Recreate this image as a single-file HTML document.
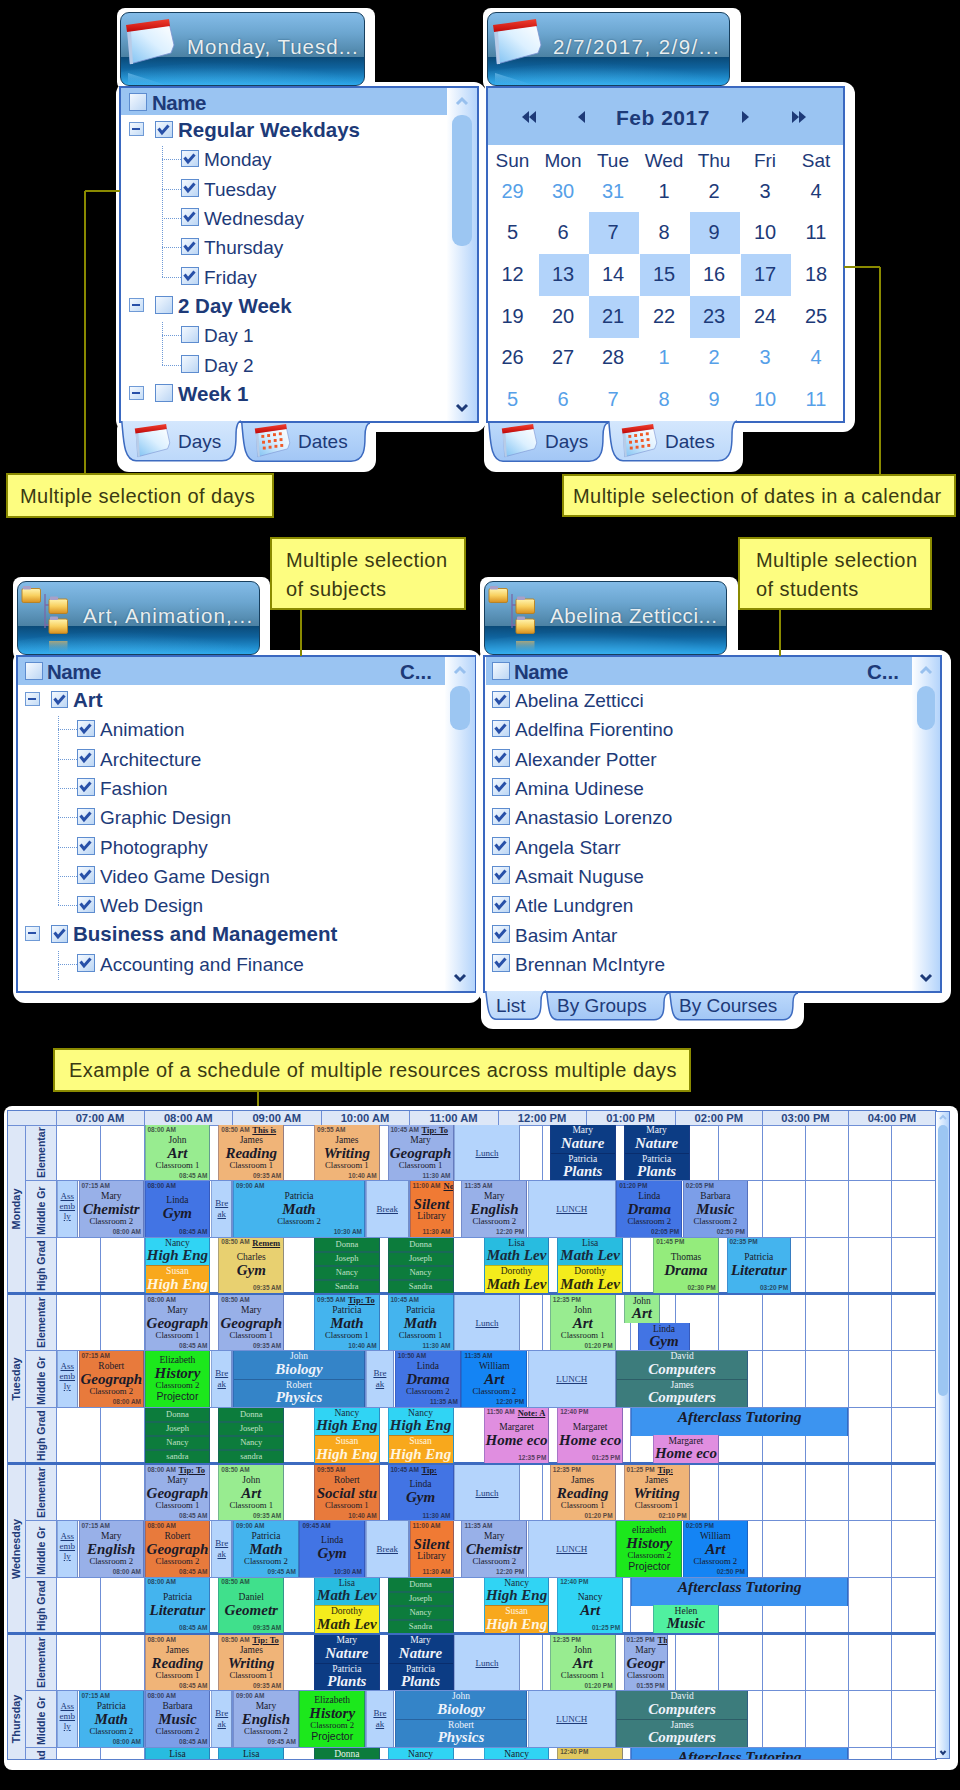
<!DOCTYPE html><html><head><meta charset="utf-8"><style>
*{margin:0;padding:0;box-sizing:border-box}
html,body{width:960px;height:1790px;overflow:hidden;background:#000;font-family:"Liberation Sans", sans-serif}
.a{position:absolute}
.wo{position:absolute;background:#fff}
.hb{position:absolute;border:1.5px solid #173f5e;border-radius:9px;overflow:hidden;
 background:linear-gradient(#84bce8 0%,#6ca6d0 28%,#4c82a4 60.5%,#0a4a78 61%,#0f629c 76%,#2aa6ea 100%)}
.hb .t{position:absolute;color:#e9eef0;font-size:20.5px;letter-spacing:1.1px;white-space:nowrap;text-shadow:0 0 2px #2a5a7a}
.lst{position:absolute;background:#fff;border:2px solid #3a68c0}
.colh{position:absolute;background:#9ac4f2;color:#1d3a78;font-weight:bold;font-size:19px}
.sb{position:absolute;background:linear-gradient(90deg,#fdfeff,#b4d4fb)}
.th{position:absolute;background:#9cc6f2;border-radius:9px}
.row{position:absolute;white-space:nowrap;color:#1d3a78;font-size:19px}
.rowb{position:absolute;white-space:nowrap;color:#1d3a78;font-size:20.5px;font-weight:bold}
.cb{position:absolute;width:17.5px;height:17.5px;border:1.5px solid #5d8ccf;background:linear-gradient(135deg,#f4f9ff,#bcd6f4)}
.mb{position:absolute;width:15px;height:14.5px;border:1.5px solid #6f9ad6;background:linear-gradient(135deg,#f4f9ff,#c4dcf6)}
.mb:after{content:"";position:absolute;left:2px;top:5px;width:8px;height:2px;background:#2850a8}
.dv{position:absolute;border-left:1px dotted #6f9ad6;width:0}
.dh{position:absolute;border-top:1px dotted #6f9ad6;height:0}
.tab{position:absolute;background:linear-gradient(#c0dafa,#a8cbf6);border:1.5px solid #3d6bc0;border-top:none;border-radius:0 0 14px 14px;color:#1d3a78;font-size:19px;white-space:nowrap}
.co{position:absolute;background:#fdfd80;border:2px solid #8a8a00;color:#3a3a12;font-size:20px;white-space:nowrap;letter-spacing:0.45px}
.ln{position:absolute;background:#8a8a00}

.sg{position:absolute;background:#dde7f7}
.hl{position:absolute;color:#2a4680;font-weight:bold;font-size:11.2px;text-align:center;white-space:nowrap}
.vl{position:absolute;width:1px;background:#6f8fd6}
.hz{position:absolute;height:1px;background:#6f8fd6}
.ev{position:absolute;overflow:hidden;font-family:"Liberation Serif", serif;color:#1a1a2a;border-right:1px solid rgba(40,60,140,.45);border-left:1px solid rgba(40,60,140,.3)}
.ev .tm{position:absolute;left:2px;top:0.5px;font-family:"Liberation Sans", sans-serif;font-size:6.5px;line-height:7.5px;font-weight:bold;white-space:nowrap;opacity:.7}
.ev .te{position:absolute;right:2px;bottom:1px;font-family:"Liberation Sans", sans-serif;font-size:6.5px;line-height:7.5px;font-weight:bold;white-space:nowrap;opacity:.7}
.ev .nt{position:absolute;top:0px;font-size:8.5px;font-weight:bold;text-decoration:underline;white-space:nowrap}
.ev .c{position:absolute;left:0;right:0;text-align:center;white-space:nowrap}
.ev .nm{font-size:9.5px;line-height:11px}
.ev .ti{font-size:15px;line-height:17px;font-weight:bold;font-style:italic}
.ev .rm{font-size:8.7px;line-height:10px}
.ev .lk{font-size:9px;line-height:11px;text-decoration:underline;color:#1d3a78}
.ev .pj{font-family:"Liberation Sans", sans-serif;font-size:10.5px;line-height:12px}
.rot{position:absolute;transform-origin:0 0;transform:rotate(-90deg);white-space:nowrap;color:#1d3a78;text-align:center}
</style></head><body><div class="wo" style="left:117px;top:8px;width:258px;height:82px;border-radius:8px"></div>
<div class="wo" style="left:116px;top:82px;width:370px;height:350px;border-radius:12px"></div>
<div class="wo" style="left:117px;top:418px;width:259px;height:54px;border-radius:12px"></div>
<div class="hb" style="left:120px;top:12px;width:245px;height:74px">
<div class="a" style="left:-40px;top:48.8px;width:318.5px;height:60px;border-radius:50%;background:radial-gradient(ellipse at 40% 70%,rgba(90,200,250,.55),rgba(60,170,240,0) 70%)"></div>
<div class="t" style="left:66px;top:22.0px;letter-spacing:1.0px">Monday, Tuesd...</div>
<svg class="a" style="left:4px;top:6px" width="52" height="48" viewBox="0 0 52 48">
<defs><linearGradient id="cga" x1="0" y1="1" x2="1" y2="0"><stop offset="0" stop-color="#7cc0f2"/><stop offset="0.55" stop-color="#dcf0ff"/><stop offset="1" stop-color="#ffffff"/></linearGradient>
<linearGradient id="rga" x1="0" y1="0" x2="0" y2="1"><stop offset="0" stop-color="#f04030"/><stop offset="1" stop-color="#c00808"/></linearGradient></defs>
<polygon points="3,12 44,6 45,8 49,26 46,34 5,45" fill="url(#cga)" stroke="#7890d0" stroke-width="0.8"/>
<polygon points="2,12 6,12 8,45 5,45" fill="#b8cce8"/>
<polygon points="1,6 44,0 45,7 2,13" fill="url(#rga)"/>

</svg>
<svg class="a" style="left:5px;top:54px" width="50" height="20"><defs><linearGradient id="rfa" x1="0" y1="0" x2="0" y2="1"><stop offset="0" stop-color="#8cd0f8" stop-opacity="0.55"/><stop offset="1" stop-color="#60b8f0" stop-opacity="0.1"/></linearGradient></defs><polygon points="2,6 40,18 2,18" fill="url(#rfa)"/></svg>
</div>
<div class="lst" style="left:119px;top:86px;width:360px;height:337px"></div>
<div class="colh" style="left:121px;top:88px;width:326px;height:27px"></div>
<div class="cb" style="left:129px;top:93px"></div>
<div class="rowb" style="left:152px;top:90.5px;font-size:20.5px;letter-spacing:-0.5px">Name</div>
<div class="sb" style="left:447px;top:88px;width:30px;height:333px"></div>
<div class="th" style="left:452px;top:115px;width:20px;height:131px"></div>
<svg class="a" style="left:455.0px;top:96px" width="14" height="10"><path d="M2 8 L7 3 L12 8" stroke="#98c0ee" stroke-width="3" fill="none"/></svg>
<svg class="a" style="left:455.0px;top:403px" width="14" height="10"><path d="M2 2 L7 7 L12 2" stroke="#1d3a78" stroke-width="3" fill="none"/></svg>
<div class="mb" style="left:128.5px;top:121.5px"></div>
<div class="cb" style="left:155px;top:120.5px"><svg class="a" style="left:1px;top:1px" width="13" height="13" viewBox="0 0 13 13"><path d="M1.5 5.5 L5 10 L11.5 2.5" stroke="#2850a8" stroke-width="3" fill="none"/></svg></div>
<div class="rowb" style="left:178px;top:117.5px">Regular Weekdays</div>
<div class="dh" style="left:162px;top:159.3px;width:19px"></div>
<div class="cb" style="left:181px;top:149.82999999999998px"><svg class="a" style="left:1px;top:1px" width="13" height="13" viewBox="0 0 13 13"><path d="M1.5 5.5 L5 10 L11.5 2.5" stroke="#2850a8" stroke-width="3" fill="none"/></svg></div>
<div class="row" style="left:204px;top:149.3px">Monday</div>
<div class="dh" style="left:162px;top:188.7px;width:19px"></div>
<div class="cb" style="left:181px;top:179.16px"><svg class="a" style="left:1px;top:1px" width="13" height="13" viewBox="0 0 13 13"><path d="M1.5 5.5 L5 10 L11.5 2.5" stroke="#2850a8" stroke-width="3" fill="none"/></svg></div>
<div class="row" style="left:204px;top:178.7px">Tuesday</div>
<div class="dh" style="left:162px;top:218.0px;width:19px"></div>
<div class="cb" style="left:181px;top:208.49px"><svg class="a" style="left:1px;top:1px" width="13" height="13" viewBox="0 0 13 13"><path d="M1.5 5.5 L5 10 L11.5 2.5" stroke="#2850a8" stroke-width="3" fill="none"/></svg></div>
<div class="row" style="left:204px;top:208.0px">Wednesday</div>
<div class="dh" style="left:162px;top:247.3px;width:19px"></div>
<div class="cb" style="left:181px;top:237.82px"><svg class="a" style="left:1px;top:1px" width="13" height="13" viewBox="0 0 13 13"><path d="M1.5 5.5 L5 10 L11.5 2.5" stroke="#2850a8" stroke-width="3" fill="none"/></svg></div>
<div class="row" style="left:204px;top:237.3px">Thursday</div>
<div class="dh" style="left:162px;top:276.6px;width:19px"></div>
<div class="cb" style="left:181px;top:267.15px"><svg class="a" style="left:1px;top:1px" width="13" height="13" viewBox="0 0 13 13"><path d="M1.5 5.5 L5 10 L11.5 2.5" stroke="#2850a8" stroke-width="3" fill="none"/></svg></div>
<div class="row" style="left:204px;top:266.6px">Friday</div>
<div class="mb" style="left:128.5px;top:297.5px"></div>
<div class="cb" style="left:155px;top:296.48px"></div>
<div class="rowb" style="left:178px;top:293.5px">2 Day Week</div>
<div class="dh" style="left:162px;top:335.3px;width:19px"></div>
<div class="cb" style="left:181px;top:325.81px"></div>
<div class="row" style="left:204px;top:325.3px">Day 1</div>
<div class="dh" style="left:162px;top:364.6px;width:19px"></div>
<div class="cb" style="left:181px;top:355.14px"></div>
<div class="row" style="left:204px;top:354.6px">Day 2</div>
<div class="mb" style="left:128.5px;top:385.5px"></div>
<div class="cb" style="left:155px;top:384.46999999999997px"></div>
<div class="rowb" style="left:178px;top:381.5px">Week 1</div>
<div class="dv" style="left:162px;top:146px;height:130.6px"></div>
<div class="dv" style="left:162px;top:322.0px;height:42.7px"></div>
<svg class="a" style="left:121px;top:421px;overflow:visible" width="120" height="40.5"><defs><linearGradient id="tg1" x1="0" y1="0" x2="0" y2="1"><stop offset="0" stop-color="#d4e7fd"/><stop offset="1" stop-color="#bcd8fa"/></linearGradient></defs><path d="M0.8,0 C2.5,18.2 2.5,39.5 15.0,39.7 L101.0,39.7 C115.0,39.5 115.0,24.3 115.0,14.2 C115.0,4.0 117.0,0.5 120.0,0 Z" fill="url(#tg1)"/><path d="M0.8,0 C2.5,18.2 2.5,39.5 15.0,39.7 L101.0,39.7 C115.0,39.5 115.0,24.3 115.0,14.2 C115.0,4.0 117.0,0.5 120.0,0" fill="none" stroke="#3d6bc0" stroke-width="1.5"/></svg>
<div class="a" style="left:178px;top:431px;color:#1d3a78;font-size:19px;white-space:nowrap">Days</div>
<svg class="a" style="left:134px;top:424px" width="38" height="35" viewBox="0 0 52 48">
<defs><linearGradient id="cgt120" x1="0" y1="1" x2="1" y2="0"><stop offset="0" stop-color="#7cc0f2"/><stop offset="0.55" stop-color="#dcf0ff"/><stop offset="1" stop-color="#ffffff"/></linearGradient>
<linearGradient id="rgt120" x1="0" y1="0" x2="0" y2="1"><stop offset="0" stop-color="#f04030"/><stop offset="1" stop-color="#c00808"/></linearGradient></defs>
<polygon points="3,12 44,6 45,8 49,26 46,34 5,45" fill="url(#cgt120)" stroke="#7890d0" stroke-width="0.8"/>
<polygon points="2,12 6,12 8,45 5,45" fill="#b8cce8"/>
<polygon points="1,6 44,0 45,7 2,13" fill="url(#rgt120)"/>

</svg>
<svg class="a" style="left:241px;top:422.5px;overflow:visible" width="129" height="39.0"><defs><linearGradient id="tg2" x1="0" y1="0" x2="0" y2="1"><stop offset="0" stop-color="#bcd9fb"/><stop offset="1" stop-color="#a2c6f5"/></linearGradient></defs><path d="M0.8,0 C2.5,17.6 2.5,38.0 15.0,38.2 L110.0,38.2 C124.0,38.0 124.0,23.4 124.0,13.6 C124.0,3.9 126.0,0.5 129.0,0 Z" fill="url(#tg2)"/><path d="M0.8,0 C2.5,17.6 2.5,38.0 15.0,38.2 L110.0,38.2 C124.0,38.0 124.0,23.4 124.0,13.6 C124.0,3.9 126.0,0.5 129.0,0" fill="none" stroke="#3d6bc0" stroke-width="1.5"/></svg>
<div class="a" style="left:298px;top:431.0px;color:#1d3a78;font-size:19px;white-space:nowrap">Dates</div>
<svg class="a" style="left:254px;top:424px" width="38" height="35" viewBox="0 0 52 48">
<defs><linearGradient id="cgu120" x1="0" y1="1" x2="1" y2="0"><stop offset="0" stop-color="#7cc0f2"/><stop offset="0.55" stop-color="#dcf0ff"/><stop offset="1" stop-color="#ffffff"/></linearGradient>
<linearGradient id="rgu120" x1="0" y1="0" x2="0" y2="1"><stop offset="0" stop-color="#f04030"/><stop offset="1" stop-color="#c00808"/></linearGradient></defs>
<polygon points="3,12 44,6 45,8 49,26 46,34 5,45" fill="url(#cgu120)" stroke="#7890d0" stroke-width="0.8"/>
<polygon points="2,12 6,12 8,45 5,45" fill="#b8cce8"/>
<polygon points="1,6 44,0 45,7 2,13" fill="url(#rgu120)"/>
<rect x="10" y="15.0" width="4" height="4" fill="#f05a28"/><rect x="18" y="13.8" width="4" height="4" fill="#f05a28"/><rect x="26" y="12.6" width="4" height="4" fill="#f05a28"/><rect x="34" y="11.4" width="4" height="4" fill="#f05a28"/><rect x="11" y="23.0" width="4" height="4" fill="#f05a28"/><rect x="19" y="21.8" width="4" height="4" fill="#f05a28"/><rect x="27" y="20.6" width="4" height="4" fill="#f05a28"/><rect x="35" y="19.4" width="4" height="4" fill="#f05a28"/><rect x="12" y="31.0" width="4" height="4" fill="#f05a28"/><rect x="20" y="29.8" width="4" height="4" fill="#f05a28"/><rect x="28" y="28.6" width="4" height="4" fill="#f05a28"/><rect x="36" y="27.4" width="4" height="4" fill="#f05a28"/>
</svg>
<div class="ln" style="left:85px;top:190.0px;width:35px;height:2px"></div>
<div class="ln" style="left:84.0px;top:191px;width:2px;height:283px"></div>
<div class="co" style="left:6px;top:473px;width:268px;height:45px"><div class="a" style="left:12px;top:9.5px;">Multiple selection of days</div></div>
<div class="wo" style="left:483px;top:8px;width:258px;height:82px;border-radius:8px"></div>
<div class="wo" style="left:483px;top:82px;width:372px;height:350px;border-radius:12px"></div>
<div class="wo" style="left:484px;top:418px;width:259px;height:54px;border-radius:12px"></div>
<div class="hb" style="left:487px;top:12px;width:243px;height:74px">
<div class="a" style="left:-40px;top:48.8px;width:315.9px;height:60px;border-radius:50%;background:radial-gradient(ellipse at 40% 70%,rgba(90,200,250,.55),rgba(60,170,240,0) 70%)"></div>
<div class="t" style="left:65px;top:22.0px;letter-spacing:1.45px">2/7/2017, 2/9/...</div>
<svg class="a" style="left:4px;top:6px" width="52" height="48" viewBox="0 0 52 48">
<defs><linearGradient id="cgb" x1="0" y1="1" x2="1" y2="0"><stop offset="0" stop-color="#7cc0f2"/><stop offset="0.55" stop-color="#dcf0ff"/><stop offset="1" stop-color="#ffffff"/></linearGradient>
<linearGradient id="rgb" x1="0" y1="0" x2="0" y2="1"><stop offset="0" stop-color="#f04030"/><stop offset="1" stop-color="#c00808"/></linearGradient></defs>
<polygon points="3,12 44,6 45,8 49,26 46,34 5,45" fill="url(#cgb)" stroke="#7890d0" stroke-width="0.8"/>
<polygon points="2,12 6,12 8,45 5,45" fill="#b8cce8"/>
<polygon points="1,6 44,0 45,7 2,13" fill="url(#rgb)"/>

</svg>
<svg class="a" style="left:5px;top:54px" width="50" height="20"><defs><linearGradient id="rfb" x1="0" y1="0" x2="0" y2="1"><stop offset="0" stop-color="#8cd0f8" stop-opacity="0.55"/><stop offset="1" stop-color="#60b8f0" stop-opacity="0.1"/></linearGradient></defs><polygon points="2,6 40,18 2,18" fill="url(#rfb)"/></svg>
</div>
<div class="lst" style="left:486px;top:86px;width:359px;height:337px"></div>
<div class="a" style="left:488px;top:88px;width:355px;height:57px;background:#9ac4f2"></div>
<div class="rowb" style="left:616px;top:106px;font-size:21px;letter-spacing:0.5px">Feb 2017</div>
<svg class="a" style="left:488px;top:88px" width="355" height="57"><polygon points="34,29 41,23 41,35" fill="#1d3a78"/><polygon points="41,29 48,23 48,35" fill="#1d3a78"/><polygon points="90,29 97,23 97,35" fill="#1d3a78"/><polygon points="261,29 254,23 254,35" fill="#1d3a78"/><polygon points="311,29 304,23 304,35" fill="#1d3a78"/><polygon points="318,29 311,23 311,35" fill="#1d3a78"/></svg>
<div class="row" style="left:482.5px;width:60px;text-align:center;top:150px;font-size:19px;color:#1d3a78">Sun</div>
<div class="row" style="left:533px;width:60px;text-align:center;top:150px;font-size:19px;color:#1d3a78">Mon</div>
<div class="row" style="left:583px;width:60px;text-align:center;top:150px;font-size:19px;color:#1d3a78">Tue</div>
<div class="row" style="left:634px;width:60px;text-align:center;top:150px;font-size:19px;color:#1d3a78">Wed</div>
<div class="row" style="left:684px;width:60px;text-align:center;top:150px;font-size:19px;color:#1d3a78">Thu</div>
<div class="row" style="left:735px;width:60px;text-align:center;top:150px;font-size:19px;color:#1d3a78">Fri</div>
<div class="row" style="left:786px;width:60px;text-align:center;top:150px;font-size:19px;color:#1d3a78">Sat</div>
<div class="row" style="left:487.5px;width:50px;text-align:center;top:179.5px;font-size:20px;color:#56a0e8">29</div>
<div class="row" style="left:538px;width:50px;text-align:center;top:179.5px;font-size:20px;color:#56a0e8">30</div>
<div class="row" style="left:588px;width:50px;text-align:center;top:179.5px;font-size:20px;color:#56a0e8">31</div>
<div class="row" style="left:639px;width:50px;text-align:center;top:179.5px;font-size:20px;color:#1d3a78">1</div>
<div class="row" style="left:689px;width:50px;text-align:center;top:179.5px;font-size:20px;color:#1d3a78">2</div>
<div class="row" style="left:740px;width:50px;text-align:center;top:179.5px;font-size:20px;color:#1d3a78">3</div>
<div class="row" style="left:791px;width:50px;text-align:center;top:179.5px;font-size:20px;color:#1d3a78">4</div>
<div class="row" style="left:487.5px;width:50px;text-align:center;top:220.5px;font-size:20px;color:#1d3a78">5</div>
<div class="row" style="left:538px;width:50px;text-align:center;top:220.5px;font-size:20px;color:#1d3a78">6</div>
<div class="a" style="left:588.5px;top:211.5px;width:50.5px;height:42px;background:#b2d3fa"></div>
<div class="row" style="left:588px;width:50px;text-align:center;top:220.5px;font-size:20px;color:#1d3a78">7</div>
<div class="row" style="left:639px;width:50px;text-align:center;top:220.5px;font-size:20px;color:#1d3a78">8</div>
<div class="a" style="left:689.5px;top:211.5px;width:50.5px;height:42px;background:#b2d3fa"></div>
<div class="row" style="left:689px;width:50px;text-align:center;top:220.5px;font-size:20px;color:#1d3a78">9</div>
<div class="row" style="left:740px;width:50px;text-align:center;top:220.5px;font-size:20px;color:#1d3a78">10</div>
<div class="row" style="left:791px;width:50px;text-align:center;top:220.5px;font-size:20px;color:#1d3a78">11</div>
<div class="row" style="left:487.5px;width:50px;text-align:center;top:262.5px;font-size:20px;color:#1d3a78">12</div>
<div class="a" style="left:538.5px;top:253.5px;width:50.5px;height:42px;background:#b2d3fa"></div>
<div class="row" style="left:538px;width:50px;text-align:center;top:262.5px;font-size:20px;color:#1d3a78">13</div>
<div class="row" style="left:588px;width:50px;text-align:center;top:262.5px;font-size:20px;color:#1d3a78">14</div>
<div class="a" style="left:639.5px;top:253.5px;width:50.5px;height:42px;background:#b2d3fa"></div>
<div class="row" style="left:639px;width:50px;text-align:center;top:262.5px;font-size:20px;color:#1d3a78">15</div>
<div class="row" style="left:689px;width:50px;text-align:center;top:262.5px;font-size:20px;color:#1d3a78">16</div>
<div class="a" style="left:740.5px;top:253.5px;width:50.5px;height:42px;background:#b2d3fa"></div>
<div class="row" style="left:740px;width:50px;text-align:center;top:262.5px;font-size:20px;color:#1d3a78">17</div>
<div class="row" style="left:791px;width:50px;text-align:center;top:262.5px;font-size:20px;color:#1d3a78">18</div>
<div class="row" style="left:487.5px;width:50px;text-align:center;top:304.5px;font-size:20px;color:#1d3a78">19</div>
<div class="row" style="left:538px;width:50px;text-align:center;top:304.5px;font-size:20px;color:#1d3a78">20</div>
<div class="a" style="left:588.5px;top:295.5px;width:50.5px;height:42px;background:#b2d3fa"></div>
<div class="row" style="left:588px;width:50px;text-align:center;top:304.5px;font-size:20px;color:#1d3a78">21</div>
<div class="row" style="left:639px;width:50px;text-align:center;top:304.5px;font-size:20px;color:#1d3a78">22</div>
<div class="a" style="left:689.5px;top:295.5px;width:50.5px;height:42px;background:#b2d3fa"></div>
<div class="row" style="left:689px;width:50px;text-align:center;top:304.5px;font-size:20px;color:#1d3a78">23</div>
<div class="row" style="left:740px;width:50px;text-align:center;top:304.5px;font-size:20px;color:#1d3a78">24</div>
<div class="row" style="left:791px;width:50px;text-align:center;top:304.5px;font-size:20px;color:#1d3a78">25</div>
<div class="row" style="left:487.5px;width:50px;text-align:center;top:345.5px;font-size:20px;color:#1d3a78">26</div>
<div class="row" style="left:538px;width:50px;text-align:center;top:345.5px;font-size:20px;color:#1d3a78">27</div>
<div class="row" style="left:588px;width:50px;text-align:center;top:345.5px;font-size:20px;color:#1d3a78">28</div>
<div class="row" style="left:639px;width:50px;text-align:center;top:345.5px;font-size:20px;color:#56a0e8">1</div>
<div class="row" style="left:689px;width:50px;text-align:center;top:345.5px;font-size:20px;color:#56a0e8">2</div>
<div class="row" style="left:740px;width:50px;text-align:center;top:345.5px;font-size:20px;color:#56a0e8">3</div>
<div class="row" style="left:791px;width:50px;text-align:center;top:345.5px;font-size:20px;color:#56a0e8">4</div>
<div class="row" style="left:487.5px;width:50px;text-align:center;top:387.5px;font-size:20px;color:#56a0e8">5</div>
<div class="row" style="left:538px;width:50px;text-align:center;top:387.5px;font-size:20px;color:#56a0e8">6</div>
<div class="row" style="left:588px;width:50px;text-align:center;top:387.5px;font-size:20px;color:#56a0e8">7</div>
<div class="row" style="left:639px;width:50px;text-align:center;top:387.5px;font-size:20px;color:#56a0e8">8</div>
<div class="row" style="left:689px;width:50px;text-align:center;top:387.5px;font-size:20px;color:#56a0e8">9</div>
<div class="row" style="left:740px;width:50px;text-align:center;top:387.5px;font-size:20px;color:#56a0e8">10</div>
<div class="row" style="left:791px;width:50px;text-align:center;top:387.5px;font-size:20px;color:#56a0e8">11</div>
<svg class="a" style="left:488px;top:422.5px;overflow:visible" width="120" height="39.0"><defs><linearGradient id="tg3" x1="0" y1="0" x2="0" y2="1"><stop offset="0" stop-color="#bcd9fb"/><stop offset="1" stop-color="#a2c6f5"/></linearGradient></defs><path d="M0.8,0 C2.5,17.6 2.5,38.0 15.0,38.2 L101.0,38.2 C115.0,38.0 115.0,23.4 115.0,13.6 C115.0,3.9 117.0,0.5 120.0,0 Z" fill="url(#tg3)"/><path d="M0.8,0 C2.5,17.6 2.5,38.0 15.0,38.2 L101.0,38.2 C115.0,38.0 115.0,23.4 115.0,13.6 C115.0,3.9 117.0,0.5 120.0,0" fill="none" stroke="#3d6bc0" stroke-width="1.5"/></svg>
<div class="a" style="left:545px;top:431.0px;color:#1d3a78;font-size:19px;white-space:nowrap">Days</div>
<svg class="a" style="left:501px;top:424px" width="38" height="35" viewBox="0 0 52 48">
<defs><linearGradient id="cgt487" x1="0" y1="1" x2="1" y2="0"><stop offset="0" stop-color="#7cc0f2"/><stop offset="0.55" stop-color="#dcf0ff"/><stop offset="1" stop-color="#ffffff"/></linearGradient>
<linearGradient id="rgt487" x1="0" y1="0" x2="0" y2="1"><stop offset="0" stop-color="#f04030"/><stop offset="1" stop-color="#c00808"/></linearGradient></defs>
<polygon points="3,12 44,6 45,8 49,26 46,34 5,45" fill="url(#cgt487)" stroke="#7890d0" stroke-width="0.8"/>
<polygon points="2,12 6,12 8,45 5,45" fill="#b8cce8"/>
<polygon points="1,6 44,0 45,7 2,13" fill="url(#rgt487)"/>

</svg>
<svg class="a" style="left:608px;top:421px;overflow:visible" width="129" height="40.5"><defs><linearGradient id="tg4" x1="0" y1="0" x2="0" y2="1"><stop offset="0" stop-color="#d4e7fd"/><stop offset="1" stop-color="#bcd8fa"/></linearGradient></defs><path d="M0.8,0 C2.5,18.2 2.5,39.5 15.0,39.7 L110.0,39.7 C124.0,39.5 124.0,24.3 124.0,14.2 C124.0,4.0 126.0,0.5 129.0,0 Z" fill="url(#tg4)"/><path d="M0.8,0 C2.5,18.2 2.5,39.5 15.0,39.7 L110.0,39.7 C124.0,39.5 124.0,24.3 124.0,14.2 C124.0,4.0 126.0,0.5 129.0,0" fill="none" stroke="#3d6bc0" stroke-width="1.5"/></svg>
<div class="a" style="left:665px;top:431px;color:#1d3a78;font-size:19px;white-space:nowrap">Dates</div>
<svg class="a" style="left:621px;top:424px" width="38" height="35" viewBox="0 0 52 48">
<defs><linearGradient id="cgu487" x1="0" y1="1" x2="1" y2="0"><stop offset="0" stop-color="#7cc0f2"/><stop offset="0.55" stop-color="#dcf0ff"/><stop offset="1" stop-color="#ffffff"/></linearGradient>
<linearGradient id="rgu487" x1="0" y1="0" x2="0" y2="1"><stop offset="0" stop-color="#f04030"/><stop offset="1" stop-color="#c00808"/></linearGradient></defs>
<polygon points="3,12 44,6 45,8 49,26 46,34 5,45" fill="url(#cgu487)" stroke="#7890d0" stroke-width="0.8"/>
<polygon points="2,12 6,12 8,45 5,45" fill="#b8cce8"/>
<polygon points="1,6 44,0 45,7 2,13" fill="url(#rgu487)"/>
<rect x="10" y="15.0" width="4" height="4" fill="#f05a28"/><rect x="18" y="13.8" width="4" height="4" fill="#f05a28"/><rect x="26" y="12.6" width="4" height="4" fill="#f05a28"/><rect x="34" y="11.4" width="4" height="4" fill="#f05a28"/><rect x="11" y="23.0" width="4" height="4" fill="#f05a28"/><rect x="19" y="21.8" width="4" height="4" fill="#f05a28"/><rect x="27" y="20.6" width="4" height="4" fill="#f05a28"/><rect x="35" y="19.4" width="4" height="4" fill="#f05a28"/><rect x="12" y="31.0" width="4" height="4" fill="#f05a28"/><rect x="20" y="29.8" width="4" height="4" fill="#f05a28"/><rect x="28" y="28.6" width="4" height="4" fill="#f05a28"/><rect x="36" y="27.4" width="4" height="4" fill="#f05a28"/>
</svg>
<div class="ln" style="left:844px;top:266.0px;width:36px;height:2px"></div>
<div class="ln" style="left:879.0px;top:267px;width:2px;height:207px"></div>
<div class="co" style="left:562px;top:474px;width:394px;height:43px"><div class="a" style="left:9px;top:9px;">Multiple selection of dates in a calendar</div></div>
<div class="wo" style="left:13px;top:577px;width:257px;height:83px;border-radius:8px"></div>
<div class="wo" style="left:13px;top:650px;width:468px;height:353px;border-radius:12px"></div>
<div class="hb" style="left:17px;top:581px;width:243px;height:74px">
<div class="a" style="left:-40px;top:48.8px;width:315.9px;height:60px;border-radius:50%;background:radial-gradient(ellipse at 40% 70%,rgba(90,200,250,.55),rgba(60,170,240,0) 70%)"></div>
<div class="t" style="left:65px;top:22.0px;letter-spacing:1.1px">Art, Animation,...</div>
<svg class="a" style="left:3px;top:1px" width="56" height="72" viewBox="0 0 56 72">
<defs><linearGradient id="fy" x1="0" y1="0" x2="0" y2="1"><stop offset="0" stop-color="#fff4b0"/><stop offset="0.5" stop-color="#f8d060"/><stop offset="1" stop-color="#d89020"/></linearGradient>
<linearGradient id="fr" x1="0" y1="0" x2="0" y2="1"><stop offset="0" stop-color="#c8b070" stop-opacity="0.8"/><stop offset="1" stop-color="#60a8d0" stop-opacity="0"/></linearGradient></defs>
<path d="M24 11 V45 M24 22 H28 M24 42 H28" stroke="#7a68a8" stroke-width="1.3" fill="none"/>
<rect x="1" y="5.5" width="18.5" height="14" rx="1.5" fill="url(#fy)" stroke="#b88020" stroke-width="0.9"/>
<rect x="2" y="3" width="8" height="3.5" rx="1" fill="#a8a0c8"/>
<rect x="28" y="16" width="18.5" height="14.5" rx="1.5" fill="url(#fy)" stroke="#b88020" stroke-width="0.9"/>
<rect x="29" y="13.5" width="8" height="3.5" rx="1" fill="#a8a0c8"/>
<rect x="28" y="36" width="18.5" height="14.5" rx="1.5" fill="url(#fy)" stroke="#b88020" stroke-width="0.9"/>
<rect x="29" y="33.5" width="8" height="3.5" rx="1" fill="#a8a0c8"/>
<rect x="28" y="58" width="18.5" height="12" fill="url(#fr)"/>
</svg>
</div>
<div class="lst" style="left:16px;top:655px;width:459.5px;height:338px"></div>
<div class="colh" style="left:18px;top:657px;width:427px;height:28px"></div>
<div class="cb" style="left:25px;top:662px"></div>
<div class="rowb" style="left:47px;top:659.5px;font-size:20.5px;letter-spacing:-0.5px">Name</div>
<div class="rowb" style="left:400px;top:659.5px;font-size:20.5px">C...</div>
<div class="sb" style="left:445px;top:657px;width:30px;height:334px"></div>
<div class="th" style="left:450px;top:686px;width:20px;height:44px"></div>
<svg class="a" style="left:453.0px;top:665px" width="14" height="10"><path d="M2 8 L7 3 L12 8" stroke="#98c0ee" stroke-width="3" fill="none"/></svg>
<svg class="a" style="left:453.0px;top:973px" width="14" height="10"><path d="M2 2 L7 7 L12 2" stroke="#1d3a78" stroke-width="3" fill="none"/></svg>
<div class="mb" style="left:24.5px;top:691.5px"></div>
<div class="cb" style="left:50.5px;top:690.5px"><svg class="a" style="left:1px;top:1px" width="13" height="13" viewBox="0 0 13 13"><path d="M1.5 5.5 L5 10 L11.5 2.5" stroke="#2850a8" stroke-width="3" fill="none"/></svg></div>
<div class="rowb" style="left:73px;top:687.5px">Art</div>
<div class="dh" style="left:58px;top:729.3px;width:19px"></div>
<div class="cb" style="left:77px;top:719.83px"><svg class="a" style="left:1px;top:1px" width="13" height="13" viewBox="0 0 13 13"><path d="M1.5 5.5 L5 10 L11.5 2.5" stroke="#2850a8" stroke-width="3" fill="none"/></svg></div>
<div class="row" style="left:100px;top:719.3px">Animation</div>
<div class="dh" style="left:58px;top:758.7px;width:19px"></div>
<div class="cb" style="left:77px;top:749.16px"><svg class="a" style="left:1px;top:1px" width="13" height="13" viewBox="0 0 13 13"><path d="M1.5 5.5 L5 10 L11.5 2.5" stroke="#2850a8" stroke-width="3" fill="none"/></svg></div>
<div class="row" style="left:100px;top:748.7px">Architecture</div>
<div class="dh" style="left:58px;top:788.0px;width:19px"></div>
<div class="cb" style="left:77px;top:778.49px"><svg class="a" style="left:1px;top:1px" width="13" height="13" viewBox="0 0 13 13"><path d="M1.5 5.5 L5 10 L11.5 2.5" stroke="#2850a8" stroke-width="3" fill="none"/></svg></div>
<div class="row" style="left:100px;top:778.0px">Fashion</div>
<div class="dh" style="left:58px;top:817.3px;width:19px"></div>
<div class="cb" style="left:77px;top:807.8199999999999px"><svg class="a" style="left:1px;top:1px" width="13" height="13" viewBox="0 0 13 13"><path d="M1.5 5.5 L5 10 L11.5 2.5" stroke="#2850a8" stroke-width="3" fill="none"/></svg></div>
<div class="row" style="left:100px;top:807.3px">Graphic Design</div>
<div class="dh" style="left:58px;top:846.6px;width:19px"></div>
<div class="cb" style="left:77px;top:837.15px"><svg class="a" style="left:1px;top:1px" width="13" height="13" viewBox="0 0 13 13"><path d="M1.5 5.5 L5 10 L11.5 2.5" stroke="#2850a8" stroke-width="3" fill="none"/></svg></div>
<div class="row" style="left:100px;top:836.6px">Photography</div>
<div class="dh" style="left:58px;top:876.0px;width:19px"></div>
<div class="cb" style="left:77px;top:866.48px"><svg class="a" style="left:1px;top:1px" width="13" height="13" viewBox="0 0 13 13"><path d="M1.5 5.5 L5 10 L11.5 2.5" stroke="#2850a8" stroke-width="3" fill="none"/></svg></div>
<div class="row" style="left:100px;top:866.0px">Video Game Design</div>
<div class="dh" style="left:58px;top:905.3px;width:19px"></div>
<div class="cb" style="left:77px;top:895.81px"><svg class="a" style="left:1px;top:1px" width="13" height="13" viewBox="0 0 13 13"><path d="M1.5 5.5 L5 10 L11.5 2.5" stroke="#2850a8" stroke-width="3" fill="none"/></svg></div>
<div class="row" style="left:100px;top:895.3px">Web Design</div>
<div class="mb" style="left:24.5px;top:926.1px"></div>
<div class="cb" style="left:50.5px;top:925.14px"><svg class="a" style="left:1px;top:1px" width="13" height="13" viewBox="0 0 13 13"><path d="M1.5 5.5 L5 10 L11.5 2.5" stroke="#2850a8" stroke-width="3" fill="none"/></svg></div>
<div class="rowb" style="left:73px;top:922.1px">Business and Management</div>
<div class="dh" style="left:58px;top:964.0px;width:19px"></div>
<div class="cb" style="left:77px;top:954.47px"><svg class="a" style="left:1px;top:1px" width="13" height="13" viewBox="0 0 13 13"><path d="M1.5 5.5 L5 10 L11.5 2.5" stroke="#2850a8" stroke-width="3" fill="none"/></svg></div>
<div class="row" style="left:100px;top:954.0px">Accounting and Finance</div>
<div class="dv" style="left:58px;top:716px;height:189.3px"></div>
<div class="dv" style="left:58px;top:950.6px;height:29.3px"></div>
<div class="co" style="left:270px;top:537px;width:196px;height:73px"><div class="a" style="left:14px;top:7px;line-height:29px;">Multiple selection<br>of subjects</div></div>
<div class="ln" style="left:300.0px;top:610px;width:2px;height:46px"></div>
<div class="wo" style="left:480px;top:577px;width:258px;height:83px;border-radius:8px"></div>
<div class="wo" style="left:478px;top:650px;width:473px;height:353px;border-radius:12px"></div>
<div class="wo" style="left:481px;top:985px;width:323px;height:44px;border-radius:12px"></div>
<div class="hb" style="left:483.5px;top:581px;width:243.5px;height:74px">
<div class="a" style="left:-40px;top:48.8px;width:316.6px;height:60px;border-radius:50%;background:radial-gradient(ellipse at 40% 70%,rgba(90,200,250,.55),rgba(60,170,240,0) 70%)"></div>
<div class="t" style="left:65.5px;top:22.0px;letter-spacing:0.6px">Abelina Zetticci...</div>
<svg class="a" style="left:3px;top:1px" width="56" height="72" viewBox="0 0 56 72">
<defs><linearGradient id="fy" x1="0" y1="0" x2="0" y2="1"><stop offset="0" stop-color="#fff4b0"/><stop offset="0.5" stop-color="#f8d060"/><stop offset="1" stop-color="#d89020"/></linearGradient>
<linearGradient id="fr" x1="0" y1="0" x2="0" y2="1"><stop offset="0" stop-color="#c8b070" stop-opacity="0.8"/><stop offset="1" stop-color="#60a8d0" stop-opacity="0"/></linearGradient></defs>
<path d="M24 11 V45 M24 22 H28 M24 42 H28" stroke="#7a68a8" stroke-width="1.3" fill="none"/>
<rect x="1" y="5.5" width="18.5" height="14" rx="1.5" fill="url(#fy)" stroke="#b88020" stroke-width="0.9"/>
<rect x="2" y="3" width="8" height="3.5" rx="1" fill="#a8a0c8"/>
<rect x="28" y="16" width="18.5" height="14.5" rx="1.5" fill="url(#fy)" stroke="#b88020" stroke-width="0.9"/>
<rect x="29" y="13.5" width="8" height="3.5" rx="1" fill="#a8a0c8"/>
<rect x="28" y="36" width="18.5" height="14.5" rx="1.5" fill="url(#fy)" stroke="#b88020" stroke-width="0.9"/>
<rect x="29" y="33.5" width="8" height="3.5" rx="1" fill="#a8a0c8"/>
<rect x="28" y="58" width="18.5" height="12" fill="url(#fr)"/>
</svg>
</div>
<div class="lst" style="left:483px;top:655px;width:459px;height:338px"></div>
<div class="colh" style="left:486px;top:657px;width:426px;height:28px"></div>
<div class="cb" style="left:492px;top:662px"></div>
<div class="rowb" style="left:514px;top:659.5px;font-size:20.5px;letter-spacing:-0.5px">Name</div>
<div class="rowb" style="left:867px;top:659.5px;font-size:20.5px">C...</div>
<div class="sb" style="left:912px;top:657px;width:28px;height:334px"></div>
<div class="th" style="left:917px;top:686px;width:18px;height:44px"></div>
<svg class="a" style="left:919.0px;top:665px" width="14" height="10"><path d="M2 8 L7 3 L12 8" stroke="#98c0ee" stroke-width="3" fill="none"/></svg>
<svg class="a" style="left:919.0px;top:973px" width="14" height="10"><path d="M2 2 L7 7 L12 2" stroke="#1d3a78" stroke-width="3" fill="none"/></svg>
<div class="cb" style="left:492px;top:690.5px"><svg class="a" style="left:1px;top:1px" width="13" height="13" viewBox="0 0 13 13"><path d="M1.5 5.5 L5 10 L11.5 2.5" stroke="#2850a8" stroke-width="3" fill="none"/></svg></div>
<div class="row" style="left:515px;top:690.0px">Abelina Zetticci</div>
<div class="cb" style="left:492px;top:719.83px"><svg class="a" style="left:1px;top:1px" width="13" height="13" viewBox="0 0 13 13"><path d="M1.5 5.5 L5 10 L11.5 2.5" stroke="#2850a8" stroke-width="3" fill="none"/></svg></div>
<div class="row" style="left:515px;top:719.3px">Adelfina Fiorentino</div>
<div class="cb" style="left:492px;top:749.16px"><svg class="a" style="left:1px;top:1px" width="13" height="13" viewBox="0 0 13 13"><path d="M1.5 5.5 L5 10 L11.5 2.5" stroke="#2850a8" stroke-width="3" fill="none"/></svg></div>
<div class="row" style="left:515px;top:748.7px">Alexander Potter</div>
<div class="cb" style="left:492px;top:778.49px"><svg class="a" style="left:1px;top:1px" width="13" height="13" viewBox="0 0 13 13"><path d="M1.5 5.5 L5 10 L11.5 2.5" stroke="#2850a8" stroke-width="3" fill="none"/></svg></div>
<div class="row" style="left:515px;top:778.0px">Amina Udinese</div>
<div class="cb" style="left:492px;top:807.8199999999999px"><svg class="a" style="left:1px;top:1px" width="13" height="13" viewBox="0 0 13 13"><path d="M1.5 5.5 L5 10 L11.5 2.5" stroke="#2850a8" stroke-width="3" fill="none"/></svg></div>
<div class="row" style="left:515px;top:807.3px">Anastasio Lorenzo</div>
<div class="cb" style="left:492px;top:837.15px"><svg class="a" style="left:1px;top:1px" width="13" height="13" viewBox="0 0 13 13"><path d="M1.5 5.5 L5 10 L11.5 2.5" stroke="#2850a8" stroke-width="3" fill="none"/></svg></div>
<div class="row" style="left:515px;top:836.6px">Angela Starr</div>
<div class="cb" style="left:492px;top:866.48px"><svg class="a" style="left:1px;top:1px" width="13" height="13" viewBox="0 0 13 13"><path d="M1.5 5.5 L5 10 L11.5 2.5" stroke="#2850a8" stroke-width="3" fill="none"/></svg></div>
<div class="row" style="left:515px;top:866.0px">Asmait Nuguse</div>
<div class="cb" style="left:492px;top:895.81px"><svg class="a" style="left:1px;top:1px" width="13" height="13" viewBox="0 0 13 13"><path d="M1.5 5.5 L5 10 L11.5 2.5" stroke="#2850a8" stroke-width="3" fill="none"/></svg></div>
<div class="row" style="left:515px;top:895.3px">Atle Lundgren</div>
<div class="cb" style="left:492px;top:925.14px"><svg class="a" style="left:1px;top:1px" width="13" height="13" viewBox="0 0 13 13"><path d="M1.5 5.5 L5 10 L11.5 2.5" stroke="#2850a8" stroke-width="3" fill="none"/></svg></div>
<div class="row" style="left:515px;top:924.6px">Basim Antar</div>
<div class="cb" style="left:492px;top:954.47px"><svg class="a" style="left:1px;top:1px" width="13" height="13" viewBox="0 0 13 13"><path d="M1.5 5.5 L5 10 L11.5 2.5" stroke="#2850a8" stroke-width="3" fill="none"/></svg></div>
<div class="row" style="left:515px;top:954.0px">Brennan McIntyre</div>
<svg class="a" style="left:485px;top:991px;overflow:visible" width="61" height="29"><defs><linearGradient id="tg5" x1="0" y1="0" x2="0" y2="1"><stop offset="0" stop-color="#d4e7fd"/><stop offset="1" stop-color="#bcd8fa"/></linearGradient></defs><path d="M0.8,0 C2.5,13.1 2.5,28.0 11.0,28.2 L46.0,28.2 C56.0,28.0 56.0,17.4 56.0,10.1 C56.0,2.9 58.0,0.5 61.0,0 Z" fill="url(#tg5)"/><path d="M0.8,0 C2.5,13.1 2.5,28.0 11.0,28.2 L46.0,28.2 C56.0,28.0 56.0,17.4 56.0,10.1 C56.0,2.9 58.0,0.5 61.0,0" fill="none" stroke="#3d6bc0" stroke-width="1.5"/></svg>
<div class="a" style="left:496px;top:994.5px;color:#1d3a78;font-size:19px;white-space:nowrap">List</div>
<svg class="a" style="left:546px;top:992.5px;overflow:visible" width="123" height="27.5"><defs><linearGradient id="tg6" x1="0" y1="0" x2="0" y2="1"><stop offset="0" stop-color="#bcd9fb"/><stop offset="1" stop-color="#a2c6f5"/></linearGradient></defs><path d="M0.8,0 C2.5,12.4 2.5,26.5 11.0,26.7 L108.0,26.7 C118.0,26.5 118.0,16.5 118.0,9.6 C118.0,2.8 120.0,0.5 123.0,0 Z" fill="url(#tg6)"/><path d="M0.8,0 C2.5,12.4 2.5,26.5 11.0,26.7 L108.0,26.7 C118.0,26.5 118.0,16.5 118.0,9.6 C118.0,2.8 120.0,0.5 123.0,0" fill="none" stroke="#3d6bc0" stroke-width="1.5"/></svg>
<div class="a" style="left:557px;top:994.5px;color:#1d3a78;font-size:19px;white-space:nowrap">By Groups</div>
<svg class="a" style="left:669px;top:992.5px;overflow:visible" width="129" height="27.5"><defs><linearGradient id="tg7" x1="0" y1="0" x2="0" y2="1"><stop offset="0" stop-color="#bcd9fb"/><stop offset="1" stop-color="#a2c6f5"/></linearGradient></defs><path d="M0.8,0 C2.5,12.4 2.5,26.5 11.0,26.7 L114.0,26.7 C124.0,26.5 124.0,16.5 124.0,9.6 C124.0,2.8 126.0,0.5 129.0,0 Z" fill="url(#tg7)"/><path d="M0.8,0 C2.5,12.4 2.5,26.5 11.0,26.7 L114.0,26.7 C124.0,26.5 124.0,16.5 124.0,9.6 C124.0,2.8 126.0,0.5 129.0,0" fill="none" stroke="#3d6bc0" stroke-width="1.5"/></svg>
<div class="a" style="left:679px;top:994.5px;color:#1d3a78;font-size:19px;white-space:nowrap">By Courses</div>
<div class="co" style="left:738px;top:537px;width:194px;height:73px"><div class="a" style="left:16px;top:7px;line-height:29px;">Multiple selection<br>of students</div></div>
<div class="ln" style="left:779.0px;top:610px;width:2px;height:46px"></div>
<div class="co" style="left:53px;top:1048px;width:638px;height:44px"><div class="a" style="left:14px;top:9px;">Example of a schedule of multiple resources across multiple days</div></div>
<div class="ln" style="left:257.0px;top:1092px;width:2px;height:18px"></div>
<div class="wo" style="left:4px;top:1106px;width:954px;height:664px;border-radius:8px"></div>
<div class="a" style="left:7px;top:1110px;width:930px;height:650px;border:1.5px solid #5a80cc;background:#fff"></div>
<div class="sg" style="left:8px;top:1111px;width:927px;height:14px"></div>
<div class="sg" style="left:8px;top:1125px;width:48px;height:634px"></div>
<div class="hl" style="left:56px;width:88px;top:1111px;line-height:14px">07:00 AM</div>
<div class="hl" style="left:144px;width:88.5px;top:1111px;line-height:14px">08:00 AM</div>
<div class="hl" style="left:232.5px;width:88.5px;top:1111px;line-height:14px">09:00 AM</div>
<div class="hl" style="left:321px;width:88px;top:1111px;line-height:14px">10:00 AM</div>
<div class="hl" style="left:409px;width:89px;top:1111px;line-height:14px">11:00 AM</div>
<div class="hl" style="left:498px;width:88px;top:1111px;line-height:14px">12:00 PM</div>
<div class="hl" style="left:586px;width:89px;top:1111px;line-height:14px">01:00 PM</div>
<div class="hl" style="left:675px;width:87.5px;top:1111px;line-height:14px">02:00 PM</div>
<div class="hl" style="left:762.5px;width:85.89999999999998px;top:1111px;line-height:14px">03:00 PM</div>
<div class="hl" style="left:848.4px;width:87.10000000000002px;top:1111px;line-height:14px">04:00 PM</div>
<div class="vl" style="left:55.5px;top:1111px;height:648px"></div>
<div class="vl" style="left:99.5px;top:1125px;height:634px"></div>
<div class="vl" style="left:143.5px;top:1111px;height:648px"></div>
<div class="vl" style="left:187.75px;top:1125px;height:634px"></div>
<div class="vl" style="left:232.0px;top:1111px;height:648px"></div>
<div class="vl" style="left:276.25px;top:1125px;height:634px"></div>
<div class="vl" style="left:320.5px;top:1111px;height:648px"></div>
<div class="vl" style="left:364.5px;top:1125px;height:634px"></div>
<div class="vl" style="left:408.5px;top:1111px;height:648px"></div>
<div class="vl" style="left:453.0px;top:1125px;height:634px"></div>
<div class="vl" style="left:497.5px;top:1111px;height:648px"></div>
<div class="vl" style="left:541.5px;top:1125px;height:634px"></div>
<div class="vl" style="left:585.5px;top:1111px;height:648px"></div>
<div class="vl" style="left:630.0px;top:1125px;height:634px"></div>
<div class="vl" style="left:674.5px;top:1111px;height:648px"></div>
<div class="vl" style="left:718.25px;top:1125px;height:634px"></div>
<div class="vl" style="left:762.0px;top:1111px;height:648px"></div>
<div class="vl" style="left:804.95px;top:1125px;height:634px"></div>
<div class="vl" style="left:847.9px;top:1111px;height:648px"></div>
<div class="vl" style="left:891.45px;top:1125px;height:634px"></div>
<div class="vl" style="left:25px;top:1125px;height:634px"></div>
<div class="hz" style="left:8px;top:1124.5px;width:927px"></div>
<div class="hz" style="left:25px;top:1180.3px;width:910px"></div>
<div class="hz" style="left:25px;top:1236.6px;width:910px"></div>
<div class="a" style="left:8px;top:1291.5px;width:927px;height:3px;background:#3d6bc0"></div>
<div class="hz" style="left:25px;top:1350.3px;width:910px"></div>
<div class="hz" style="left:25px;top:1406.6px;width:910px"></div>
<div class="a" style="left:8px;top:1461.5px;width:927px;height:3px;background:#3d6bc0"></div>
<div class="hz" style="left:25px;top:1520.3px;width:910px"></div>
<div class="hz" style="left:25px;top:1576.6px;width:910px"></div>
<div class="a" style="left:8px;top:1631.5px;width:927px;height:3px;background:#3d6bc0"></div>
<div class="hz" style="left:25px;top:1690.3px;width:910px"></div>
<div class="hz" style="left:25px;top:1746.6px;width:910px"></div>
<div class="a" style="left:8px;top:1125px;width:17px;height:168px;overflow:hidden"><div class="rot" style="left:0;top:168px;width:168px;height:17px;font-size:10.8px;font-weight:bold;line-height:17px">Monday</div></div>
<div class="a" style="left:26px;top:1125.0px;width:30px;height:55.3px;overflow:hidden"><div class="rot" style="left:0;top:55.3px;width:200px;height:30px;font-size:10.5px;font-weight:bold;line-height:31px;text-align:left;padding-left:2px">Elementar</div></div>
<div class="a" style="left:26px;top:1181.3px;width:30px;height:55.3px;overflow:hidden"><div class="rot" style="left:0;top:55.3px;width:200px;height:30px;font-size:10.5px;font-weight:bold;line-height:31px;text-align:left;padding-left:2px">Middle Gr</div></div>
<div class="a" style="left:26px;top:1237.6px;width:30px;height:55.3px;overflow:hidden"><div class="rot" style="left:0;top:55.3px;width:200px;height:30px;font-size:10.5px;font-weight:bold;line-height:31px;text-align:left;padding-left:2px">High Grad</div></div>
<div class="a" style="left:8px;top:1295px;width:17px;height:168px;overflow:hidden"><div class="rot" style="left:0;top:168px;width:168px;height:17px;font-size:10.8px;font-weight:bold;line-height:17px">Tuesday</div></div>
<div class="a" style="left:26px;top:1295.0px;width:30px;height:55.3px;overflow:hidden"><div class="rot" style="left:0;top:55.3px;width:200px;height:30px;font-size:10.5px;font-weight:bold;line-height:31px;text-align:left;padding-left:2px">Elementar</div></div>
<div class="a" style="left:26px;top:1351.3px;width:30px;height:55.3px;overflow:hidden"><div class="rot" style="left:0;top:55.3px;width:200px;height:30px;font-size:10.5px;font-weight:bold;line-height:31px;text-align:left;padding-left:2px">Middle Gr</div></div>
<div class="a" style="left:26px;top:1407.6px;width:30px;height:55.3px;overflow:hidden"><div class="rot" style="left:0;top:55.3px;width:200px;height:30px;font-size:10.5px;font-weight:bold;line-height:31px;text-align:left;padding-left:2px">High Grad</div></div>
<div class="a" style="left:8px;top:1465px;width:17px;height:168px;overflow:hidden"><div class="rot" style="left:0;top:168px;width:168px;height:17px;font-size:10.8px;font-weight:bold;line-height:17px">Wednesday</div></div>
<div class="a" style="left:26px;top:1465.0px;width:30px;height:55.3px;overflow:hidden"><div class="rot" style="left:0;top:55.3px;width:200px;height:30px;font-size:10.5px;font-weight:bold;line-height:31px;text-align:left;padding-left:2px">Elementar</div></div>
<div class="a" style="left:26px;top:1521.3px;width:30px;height:55.3px;overflow:hidden"><div class="rot" style="left:0;top:55.3px;width:200px;height:30px;font-size:10.5px;font-weight:bold;line-height:31px;text-align:left;padding-left:2px">Middle Gr</div></div>
<div class="a" style="left:26px;top:1577.6px;width:30px;height:55.3px;overflow:hidden"><div class="rot" style="left:0;top:55.3px;width:200px;height:30px;font-size:10.5px;font-weight:bold;line-height:31px;text-align:left;padding-left:2px">High Grad</div></div>
<div class="a" style="left:8px;top:1635px;width:17px;height:124px;overflow:hidden"><div class="rot" style="left:0;top:168px;width:168px;height:17px;font-size:10.8px;font-weight:bold;line-height:17px">Thursday</div></div>
<div class="a" style="left:26px;top:1635.0px;width:30px;height:55.3px;overflow:hidden"><div class="rot" style="left:0;top:55.3px;width:200px;height:30px;font-size:10.5px;font-weight:bold;line-height:31px;text-align:left;padding-left:2px">Elementar</div></div>
<div class="a" style="left:26px;top:1691.3px;width:30px;height:55.3px;overflow:hidden"><div class="rot" style="left:0;top:55.3px;width:200px;height:30px;font-size:10.5px;font-weight:bold;line-height:31px;text-align:left;padding-left:2px">Middle Gr</div></div>
<div class="a" style="left:26px;top:1747.6px;width:30px;height:11.4px;overflow:hidden"><div class="rot" style="left:0;top:55.3px;width:200px;height:30px;font-size:10.5px;font-weight:bold;line-height:31px;text-align:left;padding-left:2px">High Grad</div></div>
<div class="ev" style="left:144.5px;top:1125.0px;width:65.9px;height:55.3px;background:#98ec90"><div class="tm">08:00 AM</div><div class="c nm" style="top:9.5px">John</div><div class="c ti" style="top:19.5px">Art</div><div class="c rm" style="top:35px">Classroom 1</div><div class="te">08:45 AM</div></div>
<div class="ev" style="left:218.3px;top:1125.0px;width:65.9px;height:55.3px;background:#f0b478"><div class="tm">08:50 AM</div><div class="nt" style="left:33px">This is</div><div class="c nm" style="top:9.5px">James</div><div class="c ti" style="top:19.5px">Reading</div><div class="c rm" style="top:35px">Classroom 1</div><div class="te">09:35 AM</div></div>
<div class="ev" style="left:314.1px;top:1125.0px;width:65.5px;height:55.3px;background:#f0b478"><div class="tm">09:55 AM</div><div class="c nm" style="top:9.5px">James</div><div class="c ti" style="top:19.5px">Writing</div><div class="c rm" style="top:35px">Classroom 1</div><div class="te">10:40 AM</div></div>
<div class="ev" style="left:387.5px;top:1125.0px;width:66.0px;height:55.3px;background:#98b0e8"><div class="tm">10:45 AM</div><div class="nt" style="left:33px">Tip: To</div><div class="c nm" style="top:9.5px">Mary</div><div class="c ti" style="top:19.5px">Geograph</div><div class="c rm" style="top:35px">Classroom 1</div><div class="te">11:30 AM</div></div>
<div class="ev" style="left:454.0px;top:1125.0px;width:66.0px;height:55.3px;background:#b4d4fc"><div class="c lk" style="top:23.149999999999977px">Lunch</div></div>
<div class="ev" style="left:549.8px;top:1125.0px;width:65.8px;height:55.3px;background:#0c3c84"><div class="a" style="left:0;top:0.0px;width:100%;height:27.6px;background:#0c3c84;color:#eef2fa;"><div class="c nm" style="top:0px">Mary</div><div class="c ti" style="top:9.5px">Nature</div></div><div class="a" style="left:0;top:27.6px;width:100%;height:27.6px;background:#0c3c84;color:#eef2fa;border-top:1px solid rgba(0,0,40,.25);"><div class="c nm" style="top:0px">Patricia</div><div class="c ti" style="top:9.5px">Plants</div></div></div>
<div class="ev" style="left:623.6px;top:1125.0px;width:66.0px;height:55.3px;background:#0c3c84"><div class="a" style="left:0;top:0.0px;width:100%;height:27.6px;background:#0c3c84;color:#eef2fa;"><div class="c nm" style="top:0px">Mary</div><div class="c ti" style="top:9.5px">Nature</div></div><div class="a" style="left:0;top:27.6px;width:100%;height:27.6px;background:#0c3c84;color:#eef2fa;border-top:1px solid rgba(0,0,40,.25);"><div class="c nm" style="top:0px">Patricia</div><div class="c ti" style="top:9.5px">Plants</div></div></div>
<div class="ev" style="left:56.5px;top:1181.3px;width:21.5px;height:55.3px;background:#b4d4fc"><div class="c lk" style="top:10px;line-height:10px;font-size:9px;white-space:normal">Ass<br>emb<br>ly</div></div>
<div class="ev" style="left:78.5px;top:1181.3px;width:65.5px;height:55.3px;background:#98b0e8"><div class="tm">07:15 AM</div><div class="c nm" style="top:9.5px">Mary</div><div class="c ti" style="top:19.5px">Chemistr</div><div class="c rm" style="top:35px">Classroom 2</div><div class="te">08:00 AM</div></div>
<div class="ev" style="left:144.5px;top:1181.3px;width:65.9px;height:55.3px;background:#4274e4"><div class="tm">08:00 AM</div><div class="c nm" style="top:14px">Linda</div><div class="c ti" style="top:24px">Gym</div><div class="te">08:45 AM</div></div>
<div class="ev" style="left:210.9px;top:1181.3px;width:21.6px;height:55.3px;background:#b4d4fc"><div class="c lk" style="top:17px;line-height:11px;font-size:9px">Bre<br>ak</div></div>
<div class="ev" style="left:233.0px;top:1181.3px;width:132.0px;height:55.3px;background:#44b4ee"><div class="tm">09:00 AM</div><div class="c nm" style="top:9.5px">Patricia</div><div class="c ti" style="top:19.5px">Math</div><div class="c rm" style="top:35px">Classroom 2</div><div class="te">10:30 AM</div></div>
<div class="ev" style="left:365.5px;top:1181.3px;width:43.5px;height:55.3px;background:#b4d4fc"><div class="c lk" style="top:23.149999999999977px">Break</div></div>
<div class="ev" style="left:409.5px;top:1181.3px;width:44.0px;height:55.3px;background:#f07a34"><div class="tm">11:00 AM</div><div class="nt" style="left:33px">No</div><div class="c ti" style="top:15px">Silent</div><div class="c rm" style="top:30px;font-size:9.5px">Library</div><div class="te">11:30 AM</div></div>
<div class="ev" style="left:461.4px;top:1181.3px;width:65.9px;height:55.3px;background:#98b0e8"><div class="tm">11:35 AM</div><div class="c nm" style="top:9.5px">Mary</div><div class="c ti" style="top:19.5px">English</div><div class="c rm" style="top:35px">Classroom 2</div><div class="te">12:20 PM</div></div>
<div class="ev" style="left:527.8px;top:1181.3px;width:87.8px;height:55.3px;background:#b4d4fc"><div class="c lk" style="top:23.149999999999977px">LUNCH</div></div>
<div class="ev" style="left:616.2px;top:1181.3px;width:66.1px;height:55.3px;background:#4274e4"><div class="tm">01:20 PM</div><div class="c nm" style="top:9.5px">Linda</div><div class="c ti" style="top:19.5px">Drama</div><div class="c rm" style="top:35px">Classroom 2</div><div class="te">02:05 PM</div></div>
<div class="ev" style="left:682.8px;top:1181.3px;width:65.1px;height:55.3px;background:#7c9ee8"><div class="tm">02:05 PM</div><div class="c nm" style="top:9.5px">Barbara</div><div class="c ti" style="top:19.5px">Music</div><div class="c rm" style="top:35px">Classroom 2</div><div class="te">02:50 PM</div></div>
<div class="ev" style="left:144.5px;top:1237.6px;width:65.9px;height:55.3px;background:#30d4f4"><div class="a" style="left:0;top:0.0px;width:100%;height:27.6px;background:#30d4f4;color:#1a2a3a;"><div class="c nm" style="top:0px">Nancy</div><div class="c ti" style="top:9.5px">High Eng</div></div><div class="a" style="left:0;top:27.6px;width:100%;height:27.6px;background:#f8a81c;color:#fff6e0;border-top:1px solid rgba(0,0,40,.25);"><div class="c nm" style="top:0px">Susan</div><div class="c ti" style="top:9.5px">High Eng</div></div></div>
<div class="ev" style="left:218.3px;top:1237.6px;width:65.9px;height:55.3px;background:#e8d070"><div class="tm">08:50 AM</div><div class="nt" style="left:33px">Remem</div><div class="c nm" style="top:14px">Charles</div><div class="c ti" style="top:24px">Gym</div><div class="te">09:35 AM</div></div>
<div class="ev" style="left:314.1px;top:1237.6px;width:65.5px;height:55.3px;background:#0c7c3c"><div class="a" style="left:0;top:0.0px;width:100%;height:13.8px;"><div class="c nm" style="top:1.5px;font-size:8.5px;color:#c0e0c8">Donna</div></div><div class="a" style="left:0;top:13.8px;width:100%;height:13.8px;border-top:2px solid #1a6858;"><div class="c nm" style="top:0px;font-size:8.5px;color:#c0e0c8">Joseph</div></div><div class="a" style="left:0;top:27.6px;width:100%;height:13.8px;border-top:2px solid #1a6858;"><div class="c nm" style="top:0px;font-size:8.5px;color:#c0e0c8">Nancy</div></div><div class="a" style="left:0;top:41.5px;width:100%;height:13.8px;border-top:2px solid #1a6858;"><div class="c nm" style="top:0px;font-size:8.5px;color:#c0e0c8">Sandra</div></div></div>
<div class="ev" style="left:387.5px;top:1237.6px;width:66.0px;height:55.3px;background:#0c7c3c"><div class="a" style="left:0;top:0.0px;width:100%;height:13.8px;"><div class="c nm" style="top:1.5px;font-size:8.5px;color:#c0e0c8">Donna</div></div><div class="a" style="left:0;top:13.8px;width:100%;height:13.8px;border-top:2px solid #1a6858;"><div class="c nm" style="top:0px;font-size:8.5px;color:#c0e0c8">Joseph</div></div><div class="a" style="left:0;top:27.6px;width:100%;height:13.8px;border-top:2px solid #1a6858;"><div class="c nm" style="top:0px;font-size:8.5px;color:#c0e0c8">Nancy</div></div><div class="a" style="left:0;top:41.5px;width:100%;height:13.8px;border-top:2px solid #1a6858;"><div class="c nm" style="top:0px;font-size:8.5px;color:#c0e0c8">Sandra</div></div></div>
<div class="ev" style="left:483.7px;top:1237.6px;width:65.7px;height:55.3px;background:#28bce0"><div class="a" style="left:0;top:0.0px;width:100%;height:27.6px;background:#28bce0;color:#1a2a3a;"><div class="c nm" style="top:0px">Lisa</div><div class="c ti" style="top:9.5px">Math Lev</div></div><div class="a" style="left:0;top:27.6px;width:100%;height:27.6px;background:#f4ec1c;color:#2a2a10;border-top:1px solid rgba(0,0,40,.25);"><div class="c nm" style="top:0px">Dorothy</div><div class="c ti" style="top:9.5px">Math Lev</div></div></div>
<div class="ev" style="left:557.2px;top:1237.6px;width:65.9px;height:55.3px;background:#28bce0"><div class="a" style="left:0;top:0.0px;width:100%;height:27.6px;background:#28bce0;color:#1a2a3a;"><div class="c nm" style="top:0px">Lisa</div><div class="c ti" style="top:9.5px">Math Lev</div></div><div class="a" style="left:0;top:27.6px;width:100%;height:27.6px;background:#f4ec1c;color:#2a2a10;border-top:1px solid rgba(0,0,40,.25);"><div class="c nm" style="top:0px">Dorothy</div><div class="c ti" style="top:9.5px">Math Lev</div></div></div>
<div class="ev" style="left:653.2px;top:1237.6px;width:65.5px;height:55.3px;background:#94ec7c"><div class="tm">01:45 PM</div><div class="c nm" style="top:14px">Thomas</div><div class="c ti" style="top:24px">Drama</div><div class="te">02:30 PM</div></div>
<div class="ev" style="left:726.5px;top:1237.6px;width:64.6px;height:55.3px;background:#44b4ee"><div class="tm">02:35 PM</div><div class="c nm" style="top:14px">Patricia</div><div class="c ti" style="top:24px">Literatur</div><div class="te">03:20 PM</div></div>
<div class="ev" style="left:144.5px;top:1295.0px;width:65.9px;height:55.3px;background:#98b0e8"><div class="tm">08:00 AM</div><div class="c nm" style="top:9.5px">Mary</div><div class="c ti" style="top:19.5px">Geograph</div><div class="c rm" style="top:35px">Classroom 1</div><div class="te">08:45 AM</div></div>
<div class="ev" style="left:218.3px;top:1295.0px;width:65.9px;height:55.3px;background:#98b0e8"><div class="tm">08:50 AM</div><div class="c nm" style="top:9.5px">Mary</div><div class="c ti" style="top:19.5px">Geograph</div><div class="c rm" style="top:35px">Classroom 1</div><div class="te">09:35 AM</div></div>
<div class="ev" style="left:314.1px;top:1295.0px;width:65.5px;height:55.3px;background:#44b4ee"><div class="tm">09:55 AM</div><div class="nt" style="left:33px">Tip: To</div><div class="c nm" style="top:9.5px">Patricia</div><div class="c ti" style="top:19.5px">Math</div><div class="c rm" style="top:35px">Classroom 1</div><div class="te">10:40 AM</div></div>
<div class="ev" style="left:387.5px;top:1295.0px;width:66.0px;height:55.3px;background:#44b4ee"><div class="tm">10:45 AM</div><div class="c nm" style="top:9.5px">Patricia</div><div class="c ti" style="top:19.5px">Math</div><div class="c rm" style="top:35px">Classroom 1</div><div class="te">11:30 AM</div></div>
<div class="ev" style="left:454.0px;top:1295.0px;width:66.0px;height:55.3px;background:#b4d4fc"><div class="c lk" style="top:23.149999999999977px">Lunch</div></div>
<div class="ev" style="left:549.8px;top:1295.0px;width:65.8px;height:55.3px;background:#98ec90"><div class="tm">12:35 PM</div><div class="c nm" style="top:9.5px">John</div><div class="c ti" style="top:19.5px">Art</div><div class="c rm" style="top:35px">Classroom 1</div><div class="te">01:20 PM</div></div>
<div class="ev" style="left:623.6px;top:1295.0px;width:36.6px;height:27.7px;background:#98ec90"><div class="c nm" style="top:1px">John</div><div class="c ti" style="top:10px">Art</div></div>
<div class="ev" style="left:638.4px;top:1322.7px;width:51.2px;height:27.6px;background:#4274e4"><div class="c nm" style="top:1px">Linda</div><div class="c ti" style="top:10px">Gym</div></div>
<div class="ev" style="left:56.5px;top:1351.3px;width:21.5px;height:55.3px;background:#b4d4fc"><div class="c lk" style="top:10px;line-height:10px;font-size:9px;white-space:normal">Ass<br>emb<br>ly</div></div>
<div class="ev" style="left:78.5px;top:1351.3px;width:65.5px;height:55.3px;background:#e87a3c"><div class="tm">07:15 AM</div><div class="c nm" style="top:9.5px">Robert</div><div class="c ti" style="top:19.5px">Geograph</div><div class="c rm" style="top:35px">Classroom 2</div><div class="te">08:00 AM</div></div>
<div class="ev" style="left:144.5px;top:1351.3px;width:65.9px;height:55.3px;background:#1ce81c"><div class="c nm" style="top:3.5px">Elizabeth</div><div class="c ti" style="top:13.5px">History</div><div class="c rm" style="top:29px">Classroom 2</div><div class="c pj" style="top:39px">Projector</div></div>
<div class="ev" style="left:210.9px;top:1351.3px;width:21.6px;height:55.3px;background:#b4d4fc"><div class="c lk" style="top:17px;line-height:11px;font-size:9px">Bre<br>ak</div></div>
<div class="ev" style="left:233.0px;top:1351.3px;width:132.0px;height:55.3px;background:#3484c8"><div class="a" style="left:0;top:0.0px;width:100%;height:27.6px;background:#3484c8;color:#eef2fa;"><div class="c nm" style="top:0px">John</div><div class="c ti" style="top:9.5px">Biology</div></div><div class="a" style="left:0;top:27.6px;width:100%;height:27.6px;background:#3484c8;color:#eef2fa;border-top:1px solid rgba(0,0,40,.25);"><div class="c nm" style="top:0px">Robert</div><div class="c ti" style="top:9.5px">Physics</div></div></div>
<div class="ev" style="left:365.5px;top:1351.3px;width:28.8px;height:55.3px;background:#b4d4fc"><div class="c lk" style="top:17px;line-height:11px;font-size:9px">Bre<br>ak</div></div>
<div class="ev" style="left:394.8px;top:1351.3px;width:66.1px;height:55.3px;background:#4274e4"><div class="tm">10:50 AM</div><div class="c nm" style="top:9.5px">Linda</div><div class="c ti" style="top:19.5px">Drama</div><div class="c rm" style="top:35px">Classroom 2</div><div class="te">11:35 AM</div></div>
<div class="ev" style="left:461.4px;top:1351.3px;width:65.9px;height:55.3px;background:#1484f4"><div class="tm">11:35 AM</div><div class="c nm" style="top:9.5px">William</div><div class="c ti" style="top:19.5px">Art</div><div class="c rm" style="top:35px">Classroom 2</div><div class="te">12:20 PM</div></div>
<div class="ev" style="left:527.8px;top:1351.3px;width:87.8px;height:55.3px;background:#b4d4fc"><div class="c lk" style="top:23.149999999999977px">LUNCH</div></div>
<div class="ev" style="left:616.2px;top:1351.3px;width:131.8px;height:55.3px;background:#3c7c7c"><div class="a" style="left:0;top:0.0px;width:100%;height:27.6px;background:#3c7c7c;color:#eef2fa;"><div class="c nm" style="top:0px">David</div><div class="c ti" style="top:9.5px">Computers</div></div><div class="a" style="left:0;top:27.6px;width:100%;height:27.6px;background:#3c7c7c;color:#eef2fa;border-top:1px solid rgba(0,0,40,.25);"><div class="c nm" style="top:0px">James</div><div class="c ti" style="top:9.5px">Computers</div></div></div>
<div class="ev" style="left:144.5px;top:1407.6px;width:65.9px;height:55.3px;background:#0c7c3c"><div class="a" style="left:0;top:0.0px;width:100%;height:13.8px;"><div class="c nm" style="top:1.5px;font-size:8.5px;color:#c0e0c8">Donna</div></div><div class="a" style="left:0;top:13.8px;width:100%;height:13.8px;border-top:2px solid #1a6858;"><div class="c nm" style="top:0px;font-size:8.5px;color:#c0e0c8">Joseph</div></div><div class="a" style="left:0;top:27.6px;width:100%;height:13.8px;border-top:2px solid #1a6858;"><div class="c nm" style="top:0px;font-size:8.5px;color:#c0e0c8">Nancy</div></div><div class="a" style="left:0;top:41.5px;width:100%;height:13.8px;border-top:2px solid #1a6858;"><div class="c nm" style="top:0px;font-size:8.5px;color:#c0e0c8">sandra</div></div></div>
<div class="ev" style="left:218.3px;top:1407.6px;width:65.9px;height:55.3px;background:#0c7c3c"><div class="a" style="left:0;top:0.0px;width:100%;height:13.8px;"><div class="c nm" style="top:1.5px;font-size:8.5px;color:#c0e0c8">Donna</div></div><div class="a" style="left:0;top:13.8px;width:100%;height:13.8px;border-top:2px solid #1a6858;"><div class="c nm" style="top:0px;font-size:8.5px;color:#c0e0c8">Joseph</div></div><div class="a" style="left:0;top:27.6px;width:100%;height:13.8px;border-top:2px solid #1a6858;"><div class="c nm" style="top:0px;font-size:8.5px;color:#c0e0c8">Nancy</div></div><div class="a" style="left:0;top:41.5px;width:100%;height:13.8px;border-top:2px solid #1a6858;"><div class="c nm" style="top:0px;font-size:8.5px;color:#c0e0c8">sandra</div></div></div>
<div class="ev" style="left:314.1px;top:1407.6px;width:65.5px;height:55.3px;background:#30d4f4"><div class="a" style="left:0;top:0.0px;width:100%;height:27.6px;background:#30d4f4;color:#1a2a3a;"><div class="c nm" style="top:0px">Nancy</div><div class="c ti" style="top:9.5px">High Eng</div></div><div class="a" style="left:0;top:27.6px;width:100%;height:27.6px;background:#f8a81c;color:#fff6e0;border-top:1px solid rgba(0,0,40,.25);"><div class="c nm" style="top:0px">Susan</div><div class="c ti" style="top:9.5px">High Eng</div></div></div>
<div class="ev" style="left:387.5px;top:1407.6px;width:66.0px;height:55.3px;background:#30d4f4"><div class="a" style="left:0;top:0.0px;width:100%;height:27.6px;background:#30d4f4;color:#1a2a3a;"><div class="c nm" style="top:0px">Nancy</div><div class="c ti" style="top:9.5px">High Eng</div></div><div class="a" style="left:0;top:27.6px;width:100%;height:27.6px;background:#f8a81c;color:#fff6e0;border-top:1px solid rgba(0,0,40,.25);"><div class="c nm" style="top:0px">Susan</div><div class="c ti" style="top:9.5px">High Eng</div></div></div>
<div class="ev" style="left:483.7px;top:1407.6px;width:65.7px;height:55.3px;background:#e08ee0"><div class="tm">11:50 AM</div><div class="nt" style="left:33px">Note: A</div><div class="c nm" style="top:14px">Margaret</div><div class="c ti" style="top:24px">Home eco</div><div class="te">12:35 PM</div></div>
<div class="ev" style="left:557.2px;top:1407.6px;width:65.9px;height:55.3px;background:#e08ee0"><div class="tm">12:40 PM</div><div class="c nm" style="top:14px">Margaret</div><div class="c ti" style="top:24px">Home eco</div><div class="te">01:25 PM</div></div>
<div class="ev" style="left:631.0px;top:1407.6px;width:217.4px;height:28.2px;background:#3c94f0"><div class="c ti" style="top:0.5px;font-size:15.5px">Afterclass Tutoring</div></div>
<div class="ev" style="left:653.2px;top:1435.2px;width:65.5px;height:27.6px;background:#e08ee0"><div class="c nm" style="top:1px">Margaret</div><div class="c ti" style="top:10px">Home eco</div></div>
<div class="ev" style="left:144.5px;top:1465.0px;width:65.9px;height:55.3px;background:#98b0e8"><div class="tm">08:00 AM</div><div class="nt" style="left:33px">Tip: To</div><div class="c nm" style="top:9.5px">Mary</div><div class="c ti" style="top:19.5px">Geograph</div><div class="c rm" style="top:35px">Classroom 1</div><div class="te">08:45 AM</div></div>
<div class="ev" style="left:218.3px;top:1465.0px;width:65.9px;height:55.3px;background:#98ec90"><div class="tm">08:50 AM</div><div class="c nm" style="top:9.5px">John</div><div class="c ti" style="top:19.5px">Art</div><div class="c rm" style="top:35px">Classroom 1</div><div class="te">09:35 AM</div></div>
<div class="ev" style="left:314.1px;top:1465.0px;width:65.5px;height:55.3px;background:#e87a3c"><div class="tm">09:55 AM</div><div class="c nm" style="top:9.5px">Robert</div><div class="c ti" style="top:19.5px">Social stu</div><div class="c rm" style="top:35px">Classroom 1</div><div class="te">10:40 AM</div></div>
<div class="ev" style="left:387.5px;top:1465.0px;width:66.0px;height:55.3px;background:#4274e4"><div class="tm">10:45 AM</div><div class="nt" style="left:33px">Tip:</div><div class="c nm" style="top:14px">Linda</div><div class="c ti" style="top:24px">Gym</div><div class="te">11:30 AM</div></div>
<div class="ev" style="left:454.0px;top:1465.0px;width:66.0px;height:55.3px;background:#b4d4fc"><div class="c lk" style="top:23.149999999999977px">Lunch</div></div>
<div class="ev" style="left:549.8px;top:1465.0px;width:65.8px;height:55.3px;background:#f0b478"><div class="tm">12:35 PM</div><div class="c nm" style="top:9.5px">James</div><div class="c ti" style="top:19.5px">Reading</div><div class="c rm" style="top:35px">Classroom 1</div><div class="te">01:20 PM</div></div>
<div class="ev" style="left:623.6px;top:1465.0px;width:66.0px;height:55.3px;background:#f0b478"><div class="tm">01:25 PM</div><div class="nt" style="left:33px">Tip:</div><div class="c nm" style="top:9.5px">James</div><div class="c ti" style="top:19.5px">Writing</div><div class="c rm" style="top:35px">Classroom 1</div><div class="te">02:10 PM</div></div>
<div class="ev" style="left:56.5px;top:1521.3px;width:21.5px;height:55.3px;background:#b4d4fc"><div class="c lk" style="top:10px;line-height:10px;font-size:9px;white-space:normal">Ass<br>emb<br>ly</div></div>
<div class="ev" style="left:78.5px;top:1521.3px;width:65.5px;height:55.3px;background:#98b0e8"><div class="tm">07:15 AM</div><div class="c nm" style="top:9.5px">Mary</div><div class="c ti" style="top:19.5px">English</div><div class="c rm" style="top:35px">Classroom 2</div><div class="te">08:00 AM</div></div>
<div class="ev" style="left:144.5px;top:1521.3px;width:65.9px;height:55.3px;background:#e87a3c"><div class="tm">08:00 AM</div><div class="c nm" style="top:9.5px">Robert</div><div class="c ti" style="top:19.5px">Geograph</div><div class="c rm" style="top:35px">Classroom 2</div><div class="te">08:45 AM</div></div>
<div class="ev" style="left:210.9px;top:1521.3px;width:21.6px;height:55.3px;background:#b4d4fc"><div class="c lk" style="top:17px;line-height:11px;font-size:9px">Bre<br>ak</div></div>
<div class="ev" style="left:233.0px;top:1521.3px;width:65.9px;height:55.3px;background:#44b4ee"><div class="tm">09:00 AM</div><div class="c nm" style="top:9.5px">Patricia</div><div class="c ti" style="top:19.5px">Math</div><div class="c rm" style="top:35px">Classroom 2</div><div class="te">09:45 AM</div></div>
<div class="ev" style="left:299.4px;top:1521.3px;width:65.6px;height:55.3px;background:#4274e4"><div class="tm">09:45 AM</div><div class="c nm" style="top:14px">Linda</div><div class="c ti" style="top:24px">Gym</div><div class="te">10:30 AM</div></div>
<div class="ev" style="left:365.5px;top:1521.3px;width:43.5px;height:55.3px;background:#b4d4fc"><div class="c lk" style="top:23.149999999999977px">Break</div></div>
<div class="ev" style="left:409.5px;top:1521.3px;width:44.0px;height:55.3px;background:#f07a34"><div class="tm">11:00 AM</div><div class="c ti" style="top:15px">Silent</div><div class="c rm" style="top:30px;font-size:9.5px">Library</div><div class="te">11:30 AM</div></div>
<div class="ev" style="left:461.4px;top:1521.3px;width:65.9px;height:55.3px;background:#98b0e8"><div class="tm">11:35 AM</div><div class="c nm" style="top:9.5px">Mary</div><div class="c ti" style="top:19.5px">Chemistr</div><div class="c rm" style="top:35px">Classroom 2</div><div class="te">12:20 PM</div></div>
<div class="ev" style="left:527.8px;top:1521.3px;width:87.8px;height:55.3px;background:#b4d4fc"><div class="c lk" style="top:23.149999999999977px">LUNCH</div></div>
<div class="ev" style="left:616.2px;top:1521.3px;width:66.1px;height:55.3px;background:#1ce81c"><div class="c nm" style="top:3.5px">elizabeth</div><div class="c ti" style="top:13.5px">History</div><div class="c rm" style="top:29px">Classroom 2</div><div class="c pj" style="top:39px">Projector</div></div>
<div class="ev" style="left:682.8px;top:1521.3px;width:65.1px;height:55.3px;background:#1484f4"><div class="tm">02:05 PM</div><div class="c nm" style="top:9.5px">William</div><div class="c ti" style="top:19.5px">Art</div><div class="c rm" style="top:35px">Classroom 2</div><div class="te">02:50 PM</div></div>
<div class="ev" style="left:144.5px;top:1577.6px;width:65.9px;height:55.3px;background:#44b4ee"><div class="tm">08:00 AM</div><div class="c nm" style="top:14px">Patricia</div><div class="c ti" style="top:24px">Literatur</div><div class="te">08:45 AM</div></div>
<div class="ev" style="left:218.3px;top:1577.6px;width:65.9px;height:55.3px;background:#40e08c"><div class="tm">08:50 AM</div><div class="c nm" style="top:14px">Daniel</div><div class="c ti" style="top:24px">Geometr</div><div class="te">09:35 AM</div></div>
<div class="ev" style="left:314.1px;top:1577.6px;width:65.5px;height:55.3px;background:#28bce0"><div class="a" style="left:0;top:0.0px;width:100%;height:27.6px;background:#28bce0;color:#1a2a3a;"><div class="c nm" style="top:0px">Lisa</div><div class="c ti" style="top:9.5px">Math Lev</div></div><div class="a" style="left:0;top:27.6px;width:100%;height:27.6px;background:#f4ec1c;color:#2a2a10;border-top:1px solid rgba(0,0,40,.25);"><div class="c nm" style="top:0px">Dorothy</div><div class="c ti" style="top:9.5px">Math Lev</div></div></div>
<div class="ev" style="left:387.5px;top:1577.6px;width:66.0px;height:55.3px;background:#0c7c3c"><div class="a" style="left:0;top:0.0px;width:100%;height:13.8px;"><div class="c nm" style="top:1.5px;font-size:8.5px;color:#c0e0c8">Donna</div></div><div class="a" style="left:0;top:13.8px;width:100%;height:13.8px;border-top:2px solid #1a6858;"><div class="c nm" style="top:0px;font-size:8.5px;color:#c0e0c8">Joseph</div></div><div class="a" style="left:0;top:27.6px;width:100%;height:13.8px;border-top:2px solid #1a6858;"><div class="c nm" style="top:0px;font-size:8.5px;color:#c0e0c8">Nancy</div></div><div class="a" style="left:0;top:41.5px;width:100%;height:13.8px;border-top:2px solid #1a6858;"><div class="c nm" style="top:0px;font-size:8.5px;color:#c0e0c8">Sandra</div></div></div>
<div class="ev" style="left:483.7px;top:1577.6px;width:65.7px;height:55.3px;background:#30d4f4"><div class="a" style="left:0;top:0.0px;width:100%;height:27.6px;background:#30d4f4;color:#1a2a3a;"><div class="c nm" style="top:0px">Nancy</div><div class="c ti" style="top:9.5px">High Eng</div></div><div class="a" style="left:0;top:27.6px;width:100%;height:27.6px;background:#f8a81c;color:#fff6e0;border-top:1px solid rgba(0,0,40,.25);"><div class="c nm" style="top:0px">Susan</div><div class="c ti" style="top:9.5px">High Eng</div></div></div>
<div class="ev" style="left:557.2px;top:1577.6px;width:65.9px;height:55.3px;background:#30d4f4"><div class="tm">12:40 PM</div><div class="c nm" style="top:14px">Nancy</div><div class="c ti" style="top:24px">Art</div><div class="te">01:25 PM</div></div>
<div class="ev" style="left:631.0px;top:1577.6px;width:217.4px;height:28.2px;background:#3c94f0"><div class="c ti" style="top:0.5px;font-size:15.5px">Afterclass Tutoring</div></div>
<div class="ev" style="left:653.2px;top:1605.2px;width:65.5px;height:27.6px;background:#50f0a0"><div class="c nm" style="top:1px">Helen</div><div class="c ti" style="top:10px">Music</div></div>
<div class="ev" style="left:144.5px;top:1635.0px;width:65.9px;height:55.3px;background:#f0b478"><div class="tm">08:00 AM</div><div class="c nm" style="top:9.5px">James</div><div class="c ti" style="top:19.5px">Reading</div><div class="c rm" style="top:35px">Classroom 1</div><div class="te">08:45 AM</div></div>
<div class="ev" style="left:218.3px;top:1635.0px;width:65.9px;height:55.3px;background:#f0b478"><div class="tm">08:50 AM</div><div class="nt" style="left:33px">Tip: To</div><div class="c nm" style="top:9.5px">James</div><div class="c ti" style="top:19.5px">Writing</div><div class="c rm" style="top:35px">Classroom 1</div><div class="te">09:35 AM</div></div>
<div class="ev" style="left:314.1px;top:1635.0px;width:65.5px;height:55.3px;background:#0c3c84"><div class="a" style="left:0;top:0.0px;width:100%;height:27.6px;background:#0c3c84;color:#eef2fa;"><div class="c nm" style="top:0px">Mary</div><div class="c ti" style="top:9.5px">Nature</div></div><div class="a" style="left:0;top:27.6px;width:100%;height:27.6px;background:#0c3c84;color:#eef2fa;border-top:1px solid rgba(0,0,40,.25);"><div class="c nm" style="top:0px">Patricia</div><div class="c ti" style="top:9.5px">Plants</div></div></div>
<div class="ev" style="left:387.5px;top:1635.0px;width:66.0px;height:55.3px;background:#0c3c84"><div class="a" style="left:0;top:0.0px;width:100%;height:27.6px;background:#0c3c84;color:#eef2fa;"><div class="c nm" style="top:0px">Mary</div><div class="c ti" style="top:9.5px">Nature</div></div><div class="a" style="left:0;top:27.6px;width:100%;height:27.6px;background:#0c3c84;color:#eef2fa;border-top:1px solid rgba(0,0,40,.25);"><div class="c nm" style="top:0px">Patricia</div><div class="c ti" style="top:9.5px">Plants</div></div></div>
<div class="ev" style="left:454.0px;top:1635.0px;width:66.0px;height:55.3px;background:#b4d4fc"><div class="c lk" style="top:23.149999999999977px">Lunch</div></div>
<div class="ev" style="left:549.8px;top:1635.0px;width:65.8px;height:55.3px;background:#98ec90"><div class="tm">12:35 PM</div><div class="c nm" style="top:9.5px">John</div><div class="c ti" style="top:19.5px">Art</div><div class="c rm" style="top:35px">Classroom 1</div><div class="te">01:20 PM</div></div>
<div class="ev" style="left:623.6px;top:1635.0px;width:44.0px;height:55.3px;background:#98b0e8"><div class="tm">01:25 PM</div><div class="nt" style="left:33px">Th</div><div class="c nm" style="top:9.5px">Mary</div><div class="c ti" style="top:19.5px">Geogr</div><div class="c rm" style="top:35px">Classroom</div><div class="te">01:55 PM</div></div>
<div class="ev" style="left:56.5px;top:1691.3px;width:21.5px;height:55.3px;background:#b4d4fc"><div class="c lk" style="top:10px;line-height:10px;font-size:9px;white-space:normal">Ass<br>emb<br>ly</div></div>
<div class="ev" style="left:78.5px;top:1691.3px;width:65.5px;height:55.3px;background:#44b4ee"><div class="tm">07:15 AM</div><div class="c nm" style="top:9.5px">Patricia</div><div class="c ti" style="top:19.5px">Math</div><div class="c rm" style="top:35px">Classroom 2</div><div class="te">08:00 AM</div></div>
<div class="ev" style="left:144.5px;top:1691.3px;width:65.9px;height:55.3px;background:#7c9ee8"><div class="tm">08:00 AM</div><div class="c nm" style="top:9.5px">Barbara</div><div class="c ti" style="top:19.5px">Music</div><div class="c rm" style="top:35px">Classroom 2</div><div class="te">08:45 AM</div></div>
<div class="ev" style="left:210.9px;top:1691.3px;width:21.6px;height:55.3px;background:#b4d4fc"><div class="c lk" style="top:17px;line-height:11px;font-size:9px">Bre<br>ak</div></div>
<div class="ev" style="left:233.0px;top:1691.3px;width:65.9px;height:55.3px;background:#98b0e8"><div class="tm">09:00 AM</div><div class="c nm" style="top:9.5px">Mary</div><div class="c ti" style="top:19.5px">English</div><div class="c rm" style="top:35px">Classroom 2</div><div class="te">09:45 AM</div></div>
<div class="ev" style="left:299.4px;top:1691.3px;width:65.6px;height:55.3px;background:#1ce81c"><div class="c nm" style="top:3.5px">Elizabeth</div><div class="c ti" style="top:13.5px">History</div><div class="c rm" style="top:29px">Classroom 2</div><div class="c pj" style="top:39px">Projector</div></div>
<div class="ev" style="left:365.5px;top:1691.3px;width:28.8px;height:55.3px;background:#b4d4fc"><div class="c lk" style="top:17px;line-height:11px;font-size:9px">Bre<br>ak</div></div>
<div class="ev" style="left:394.8px;top:1691.3px;width:132.5px;height:55.3px;background:#3484c8"><div class="a" style="left:0;top:0.0px;width:100%;height:27.6px;background:#3484c8;color:#eef2fa;"><div class="c nm" style="top:0px">John</div><div class="c ti" style="top:9.5px">Biology</div></div><div class="a" style="left:0;top:27.6px;width:100%;height:27.6px;background:#3484c8;color:#eef2fa;border-top:1px solid rgba(0,0,40,.25);"><div class="c nm" style="top:0px">Robert</div><div class="c ti" style="top:9.5px">Physics</div></div></div>
<div class="ev" style="left:527.8px;top:1691.3px;width:87.8px;height:55.3px;background:#b4d4fc"><div class="c lk" style="top:23.149999999999977px">LUNCH</div></div>
<div class="ev" style="left:616.2px;top:1691.3px;width:131.8px;height:55.3px;background:#3c7c7c"><div class="a" style="left:0;top:0.0px;width:100%;height:27.6px;background:#3c7c7c;color:#eef2fa;"><div class="c nm" style="top:0px">David</div><div class="c ti" style="top:9.5px">Computers</div></div><div class="a" style="left:0;top:27.6px;width:100%;height:27.6px;background:#3c7c7c;color:#eef2fa;border-top:1px solid rgba(0,0,40,.25);"><div class="c nm" style="top:0px">James</div><div class="c ti" style="top:9.5px">Computers</div></div></div>
<div class="ev" style="left:144.5px;top:1747.6px;width:65.9px;height:11.4px;background:#28bce0"><div class="c nm" style="top:1px">Lisa</div></div>
<div class="ev" style="left:218.3px;top:1747.6px;width:65.9px;height:11.4px;background:#28bce0"><div class="c nm" style="top:1px">Lisa</div></div>
<div class="ev" style="left:314.1px;top:1747.6px;width:65.5px;height:11.4px;background:#0c7c3c"><div class="c nm" style="top:1px;color:#e8f4ea">Donna</div></div>
<div class="ev" style="left:387.5px;top:1747.6px;width:66.0px;height:11.4px;background:#30d4f4"><div class="c nm" style="top:1px">Nancy</div></div>
<div class="ev" style="left:483.7px;top:1747.6px;width:65.7px;height:11.4px;background:#30d4f4"><div class="c nm" style="top:1px">Nancy</div></div>
<div class="ev" style="left:557.2px;top:1747.6px;width:65.9px;height:11.4px;background:#e0c860"><div class="tm">12:40 PM</div></div>
<div class="ev" style="left:631.0px;top:1747.6px;width:217.4px;height:11.4px;background:#3c94f0"><div class="c ti" style="top:0.5px;font-size:15.5px">Afterclass Tutoring</div></div>
<div class="sb" style="left:935px;top:1111px;width:15px;height:648px;border:1px solid #5a80cc"></div>
<div class="th" style="left:937.5px;top:1125px;width:10.5px;height:271px;border-radius:5px"></div>
<svg class="a" style="left:937px;top:1113px" width="12" height="9"><path d="M3 6 L6 3 L9 6" stroke="#a0c4ee" stroke-width="2" fill="none"/></svg>
<svg class="a" style="left:937px;top:1748px" width="12" height="9"><path d="M3.5 3 L6 6 L8.5 3" stroke="#1d3a78" stroke-width="2" fill="none"/></svg></body></html>
